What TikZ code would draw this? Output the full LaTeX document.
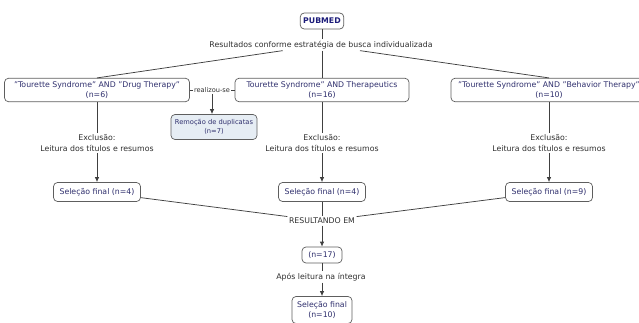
\documentclass[tikz,border=0pt]{standalone}
\usepackage{fontspec}
\setmainfont{DejaVu Sans}
\usepackage{tikz}
\usetikzlibrary{arrows.meta,positioning}
\definecolor{conceptink}{HTML}{30306E}
\definecolor{pubink}{HTML}{1C1C7A}
\definecolor{linkink}{HTML}{2E2E2E}
\definecolor{edgegray}{HTML}{5E5E5E}
\definecolor{wiregray}{HTML}{404040}
\definecolor{dupfill}{HTML}{E6EDF4}

\begin{document}
\begin{tikzpicture}[x=1pt,y=-1pt,
  concept/.style={draw=edgegray,line width=0.7pt,rounded corners=4pt,fill=white,text=conceptink,align=center,
    font=\fontsize{7.8}{10.5}\selectfont,inner xsep=3pt,inner ysep=3pt,minimum height=19pt},
  linkword/.style={text=linkink,align=center,font=\fontsize{7.8}{10.5}\selectfont,inner sep=1.5pt},
  conn/.style={draw=wiregray,line width=0.75pt},
  arr/.style={conn,-{Latex[length=5pt,width=4.5pt]}}]
  \useasboundingbox (0,0) rectangle (639,323);
  \node[concept,text=pubink,font=\fontsize{7.8}{9}\bfseries,minimum height=16pt,inner ysep=2pt] (pubmed) at (322,21) {PUBMED};
  \node[linkword] (res) at (321,45) {Resultados conforme estratégia de busca individualizada};
  \node[concept,minimum width=185pt] (qdrug) at (97,90) {"Tourette Syndrome" AND "Drug Therapy"\\(n=6)};
  \node[concept,minimum width=174pt] (qther) at (322,90) {Tourette Syndrome" AND Therapeutics\\(n=16)};
  \node[concept,minimum width=196pt] (qbehav) at (549,90) {"Tourette Syndrome" AND "Behavior Therapy"\\(n=10)};
  \node[linkword,font=\fontsize{6.6}{8}\selectfont,inner sep=1pt] (realiz) at (212,90) {realizou-se};
  \node[concept,fill=dupfill,font=\fontsize{6.7}{9}\selectfont,minimum width=86pt,minimum height=25pt] (dup) at (214,127) {Remoção de duplicatas\\(n=7)};
  \draw[conn] (pubmed) -- (res.north -| pubmed);
  \draw[conn] (res.south -| qther) -- (qther);
  \draw[conn] (res) -- (qdrug.north);
  \draw[conn] (res) -- (qbehav.north);
  \draw[conn] (qdrug) -- (realiz) -- (qther);
  \draw[arr] (realiz.south) -- (realiz.south |- dup.north);
  \foreach \q/\xx/\n in {drug/97/4,ther/322/4,behav/549/9} {
    \node[linkword] (exc\q) at (\xx,143) {Exclusão:\\Leitura dos títulos e resumos};
    \node[concept,minimum width=87pt] (sel\q) at (\xx,192) {Seleção final (n=\n)};
    \draw[conn] (q\q) -- (exc\q);
    \draw[arr] (exc\q) -- (sel\q);
  }
  \node[linkword] (result) at (322,221) {RESULTANDO EM};
  \node[concept,minimum width=40pt,minimum height=16pt,inner ysep=2pt] (nall) at (322,255) {(n=17)};
  \node[linkword] (apos) at (321,277) {Após leitura na íntegra};
  \node[concept,minimum width=60pt,minimum height=27pt] (final) at (322,310) {Seleção final\\(n=10)};
  \draw[conn] (seldrug) -- (result);
  \draw[conn] (selbehav) -- (result);
  \draw[conn] (selther) -- (result.north -| selther);
  \draw[arr] (result.south -| nall) -- (nall);
  \draw[conn] (nall) -- (apos.north -| nall);
  \draw[arr] (apos.south -| final) -- (final);
\end{tikzpicture}
\end{document}
